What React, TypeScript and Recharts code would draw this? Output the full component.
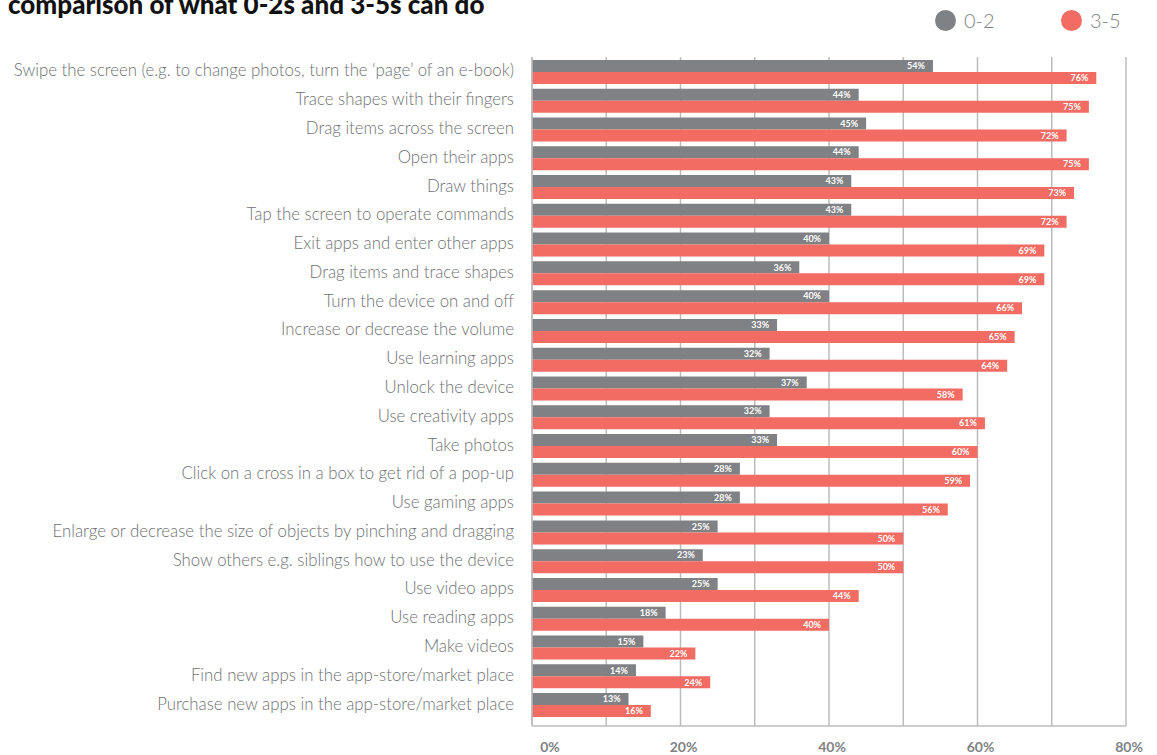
import React from 'react';
import { BarChart, Bar, XAxis, YAxis, CartesianGrid, LabelList, Legend } from 'recharts';

const categories = [
  'Swipe the screen (e.g. to change photos, turn the \u2018page\u2019 of an e-book)',
  'Trace shapes with their fingers',
  'Drag items across the screen',
  'Open their apps',
  'Draw things',
  'Tap the screen to operate commands',
  'Exit apps and enter other apps',
  'Drag items and trace shapes',
  'Turn the device on and off',
  'Increase or decrease the volume',
  'Use learning apps',
  'Unlock the device',
  'Use creativity apps',
  'Take photos',
  'Click on a cross in a box to get rid of a pop-up',
  'Use gaming apps',
  'Enlarge or decrease the size of objects by pinching and dragging',
  'Show others e.g. siblings how to use the device',
  'Use video apps',
  'Use reading apps',
  'Make videos',
  'Find new apps in the app-store/market place',
  'Purchase new apps in the app-store/market place',
];

const age02 = [54, 44, 45, 44, 43, 43, 40, 36, 40, 33, 32, 37, 32, 33, 28, 28, 25, 23, 25, 18, 15, 14, 13];
const age35 = [76, 75, 72, 75, 73, 72, 69, 69, 66, 65, 64, 58, 61, 60, 59, 56, 50, 50, 44, 40, 22, 24, 16];

const gridTicks = [0, 10, 20, 30, 40, 50, 60, 70, 80];
const labelTicks = [0, 20, 40, 60, 80];

const seriesNames = ['0-2', '3-5'];
const title = 'comparison of what 0-2s and 3-5s can do';

const GRAY = '#808184';
const RED = '#f26c63';
const TEXT = '#808285';
const LABEL = '#707174';
const GRID = '#bcbcbc';

const data = categories.map((name, i) => ({ name, a: age02[i], b: age35[i] }));

const YTick = (props: any) => {
  const { y, payload } = props;
  return (
    <text x={514} y={y} dy={5} textAnchor="end" fill={LABEL} fontSize={16.8} fontFamily="Lato" fontWeight={300}>
      {payload.value}
    </text>
  );
};

const XTick = (props: any) => {
  const { x, y, payload } = props;
  if (!labelTicks.includes(payload.value)) return null;
  const dx = payload.value === 0 ? 18 : 3;
  return (
    <text x={x + dx} y={y} dy={18} textAnchor="middle" fill={TEXT} fontSize={14} fontFamily="Lato" fontWeight={700}>
      {payload.value + '%'}
    </text>
  );
};

const LegendContent = () => (
  <div style={{ position: 'relative', width: 1157, height: 0, overflow: 'visible' }}>
    {seriesNames.map((s, i) => (
      <div
        key={s}
        style={{
          position: 'absolute',
          left: i === 0 ? 935 : 1061,
          top: 8,
          display: 'flex',
          alignItems: 'center',
          fontFamily: 'Lato',
          fontWeight: 300,
          fontSize: 20,
          color: TEXT,
        }}
      >
        <span
          style={{
            display: 'inline-block',
            width: 21,
            height: 21,
            borderRadius: 11,
            background: i === 0 ? GRAY : RED,
            marginRight: 8,
          }}
        />
        <span>{s}</span>
      </div>
    ))}
  </div>
);

export default function App() {
  return (
    <div style={{ position: 'absolute', left: 0, top: 0, width: 1157, height: 755, background: '#fff', overflow: 'hidden' }}>
      <div
        style={{
          position: 'absolute',
          left: 8,
          top: -10,
          fontFamily: 'Lato',
          fontWeight: 900,
          fontSize: 26,
          lineHeight: '28px',
          color: '#111',
          whiteSpace: 'nowrap',
          zIndex: 2,
        }}
      >
        {title}
      </div>
      <BarChart
        width={1157}
        height={755}
        data={data}
        layout="vertical"
        margin={{ top: 57, right: 31, bottom: 0, left: 0 }}
        barGap={0}
        barCategoryGap="10%"
      >
        <CartesianGrid horizontal={false} stroke={GRID} strokeWidth={1.5} />
        <XAxis
          type="number"
          domain={[0, 80]}
          ticks={gridTicks}
          interval={0}
          height={29}
          tick={<XTick />}
          tickLine={false}
          axisLine={{ stroke: GRID, strokeWidth: 1.5 }}
        />
        <YAxis
          type="category"
          dataKey="name"
          width={532}
          interval={0}
          padding={{ top: 0, bottom: 7 }}
          tick={<YTick />}
          tickLine={false}
          axisLine={{ stroke: GRID, strokeWidth: 1.5 }}
        />
        <Legend verticalAlign="top" wrapperStyle={{ top: 0, left: 0, height: 0 }} content={<LegendContent />} />
        <Bar dataKey="a" name={seriesNames[0]} fill={GRAY} isAnimationActive={false}>
          <LabelList
            dataKey="a"
            position="insideRight"
            offset={8}
            fill="#fff"
            fontSize={9}
            fontWeight={700}
            fontFamily="Lato"
            formatter={(v: any) => v + '%'}
          />
        </Bar>
        <Bar dataKey="b" name={seriesNames[1]} fill={RED} isAnimationActive={false}>
          <LabelList
            dataKey="b"
            position="insideRight"
            offset={8}
            fill="#fff"
            fontSize={9}
            fontWeight={700}
            fontFamily="Lato"
            formatter={(v: any) => v + '%'}
          />
        </Bar>
      </BarChart>
    </div>
  );
}
